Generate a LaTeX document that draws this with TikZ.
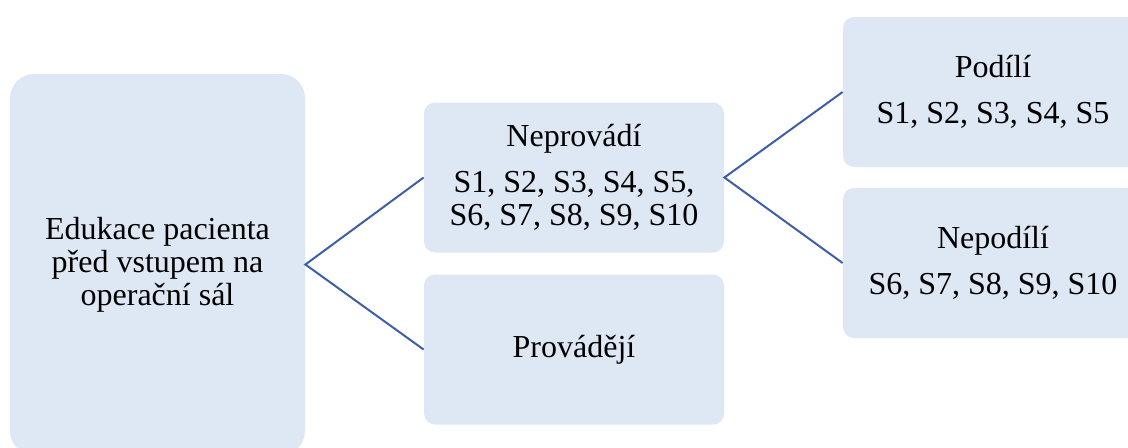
\documentclass[tikz,border=0pt]{standalone}
\usepackage{fontspec}
\setmainfont{Liberation Serif}
\definecolor{boxfill}{RGB}{222,232,244}
\definecolor{linkblue}{RGB}{62,94,166}

\begin{document}
\begin{tikzpicture}[x = 0.5pt, y = 0.5pt,
  box/.style = {fill = boxfill, rounded corners = 5.5pt, align = center,
    minimum width = 150pt, minimum height = 75pt, inner sep = 0pt,
    font = \rmfamily\fontsize{16}{16.5}\selectfont},
  bigbox/.style = {box, rounded corners = 12pt,
    minimum width = 147.5pt, minimum height = 190.5pt},
  link/.style = {draw = linkblue, line width = 1pt}]
  % page frame
  \clip (0, 0) rectangle (1128, 447);
  % boxes of the tree
  \node[bigbox] (edukace) at (157.5, 182.5)
  {Edukace pacienta\\před vstupem na\\operační sál};
  \node[box] (neprovadi) at (574, 269.5)
  {Neprovádí\\[6.5pt]S1, S2, S3, S4, S5,\\S6, S7, S8, S9, S10};
  \node[box] (provadeji) at (574, 97.5) {Provádějí};
  \node[box] (podili) at (993, 355)
  {Podílí\\[6.5pt]S1, S2, S3, S4, S5};
  \node[box] (nepodili) at (993, 184)
  {Nepodílí\\[6.5pt]S6, S7, S8, S9, S10};
  % branches
  \draw[link] (neprovadi.west) -- (edukace.east) -- (provadeji.west);
  \draw[link] (podili.west) -- (neprovadi.east) -- (nepodili.west);
\end{tikzpicture}
\end{document}
